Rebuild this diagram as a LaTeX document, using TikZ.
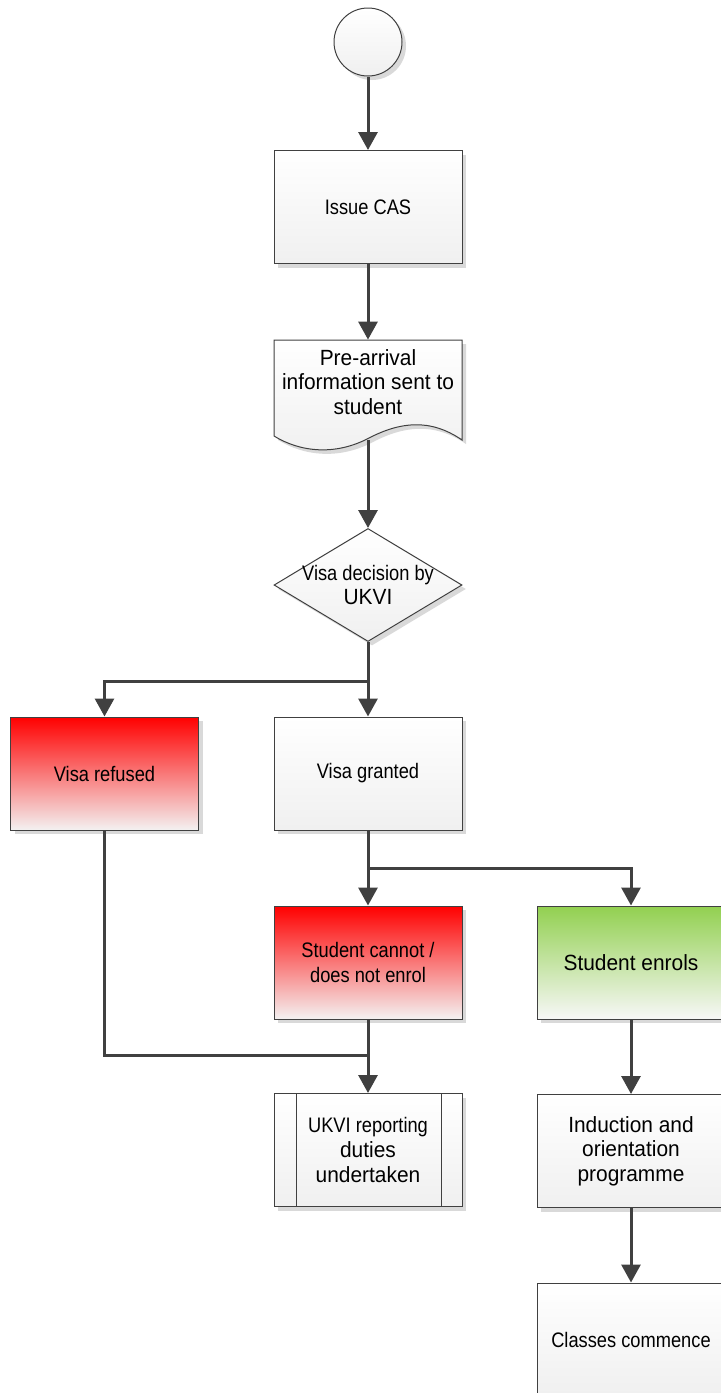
\documentclass[tikz,border=0pt]{standalone}
\usepackage{fontspec}
\setmainfont{Liberation Sans}
\newfontfamily\flowfont[FakeStretch=0.87]{Liberation Sans}
\newfontfamily\wideflowfont[FakeStretch=0.95]{Liberation Sans}
\usetikzlibrary{arrows.meta,shapes.geometric,shadows}
\definecolor{linegray}{HTML}{404040}
\definecolor{boxgreen}{HTML}{92D050}
\newcommand{\bigtext}{\wideflowfont\fontsize{11}{12.3}\selectfont}
\tikzset{
    boxshadow/.style={drop shadow={shadow xshift=2pt, shadow yshift=-2pt, fill=gray!30, opacity=1}},
    plainfill/.style={top color=white, bottom color=gray!12},
    stepbox/.style={draw=linegray, line width=0.5pt, minimum width=94pt, minimum height=56.5pt, inner sep=0pt,
        align=center, plainfill, boxshadow, font=\flowfont\fontsize{10.5}{12.3}\selectfont},
    redbox/.style={stepbox, top color=red, bottom color=red!8!gray!10},
    greenbox/.style={stepbox, top color=boxgreen, bottom color=gray!6},
    flow/.style={draw=linegray, line width=1.5pt, -{Triangle[length=9pt,width=9.5pt]}},
    wire/.style={draw=linegray, line width=1.5pt},
}
\begin{document}
\begin{tikzpicture}[x=0.5pt, y=-0.5pt]
    \useasboundingbox (0,0) rectangle (720,1393);
    \node[circle, draw=linegray, line width=0.5pt, minimum size=34pt, plainfill, boxshadow] (start) at (368,42) {};
    \node[stepbox] (cas) at (368,207) {Issue CAS};
    \path[draw=linegray, line width=0.5pt, plainfill, boxshadow] (274,340) -- (462,340) -- (462,440)
        .. controls (430,418) and (400,422) .. (369,438)
        .. controls (335,456) and (300,452) .. (274,436) -- cycle;
    \node[minimum width=94pt, minimum height=50pt, inner sep=0pt,
        label={[yshift=4pt, align=center, font=\bigtext]center:Pre-arrival\\information sent to\\student}] (info) at (368,390) {};
    \node[diamond, draw=linegray, line width=0.5pt, minimum width=94pt, minimum height=56.5pt, inner sep=0pt,
        aspect=1.67, plainfill, boxshadow,
        label={[align=center, font=\flowfont\fontsize{10.5}{12.3}\selectfont]center:Visa decision by\\{\bigtext UKVI}}] (decision) at (368,585) {};
    \node[redbox] (refused) at (104.5,773.5) {Visa refused};
    \node[stepbox] (granted) at (368,773.5) {Visa granted};
    \node[redbox] (noenrol) at (368,962.5) {Student cannot /\\does not enrol};
    \node[greenbox, font=\bigtext] (enrols) at (631,962.5) {Student enrols};
    \node[stepbox] (report) at (368,1150) {UKVI reporting\\{\bigtext duties}\\{\bigtext undertaken}};
    \draw[linegray, line width=0.5pt] ([xshift=11.5pt]report.north west) -- ([xshift=11.5pt]report.south west);
    \draw[linegray, line width=0.5pt] ([xshift=-10.5pt]report.north east) -- ([xshift=-10.5pt]report.south east);
    \node[stepbox, font=\bigtext] (induction) at (631,1151) {Induction and\\orientation\\programme};
    \node[stepbox] (classes) at (631,1339.5) {Classes commence};
    \coordinate (merge) at (368,1055);
    \draw[flow] (start) -- (cas);
    \draw[flow] (cas) -- (info);
    \draw[flow] (info) -- (decision);
    \draw[flow] (decision.south) -- (granted);
    \draw[flow] (decision.south) -- ++(0,39) -| (refused);
    \draw[flow] (granted) -- (noenrol);
    \draw[flow] (granted.south) -- ++(0,38) -| (enrols);
    \draw[wire] (refused) |- (merge);
    \draw[flow] (noenrol) -- (report);
    \draw[flow] (enrols) -- (induction);
    \draw[flow] (induction) -- (classes);
\end{tikzpicture}
\end{document}
